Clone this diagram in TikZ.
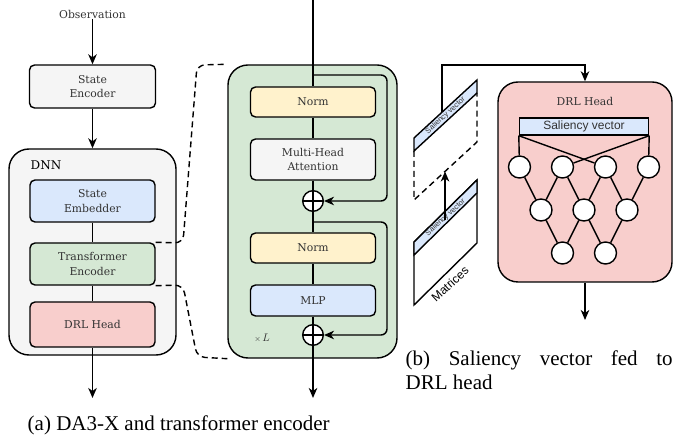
\documentclass[tikz,border=0pt]{standalone}
\usepackage{fontspec}
\setmainfont{DejaVu Serif}
\newfontfamily\capfont{Liberation Serif}
\newfontfamily\sansfnt{Liberation Sans}
\usetikzlibrary{arrows.meta,calc}
\definecolor{grayfill}{HTML}{F5F5F5}
\definecolor{bluefill}{HTML}{DAE8FC}
\definecolor{greenfill}{HTML}{D5E8D4}
\definecolor{redfill}{HTML}{F8CECC}
\definecolor{yellowfill}{HTML}{FFF2CC}
\definecolor{txt}{HTML}{333333}
\begin{document}
\begin{tikzpicture}[x=1pt,y=-1pt,
 line width=1.4pt,
 box/.style={draw, rounded corners=5pt, align=center, text=txt, font=\fontsize{10.8}{14.5}\selectfont, inner sep=0pt},
 bigbox/.style={draw, rounded corners=20pt, inner sep=0pt},
 arr/.style={-{Stealth[length=10pt,width=8.5pt,inset=3pt]}},
 plus/.style={draw, circle, fill=white, minimum size=20.6pt, inner sep=0pt,
   path picture={\draw[line width=1.2pt] (path picture bounding box.north) -- (path picture bounding box.south) (path picture bounding box.west) -- (path picture bounding box.east);}},
 neuron/.style={draw, circle, fill=white, minimum size=22pt, inner sep=0pt},
 lbl/.style={text=txt, font=\fontsize{10.8}{14.5}\selectfont, inner sep=0pt},
 captext/.style={font=\capfont\fontsize{21}{24}\selectfont, inner sep=0pt, anchor=base west},
 dsh/.style={dash pattern=on 6pt off 4pt},
]
\useasboundingbox (0,0) rectangle (675,443);

% ---------- (a) left column ----------
\node[lbl] (obs) at (92.5,14) {Observation};
\node[box, fill=grayfill, minimum width=126pt, minimum height=43pt] (se) at (92.5,86.5) {State\\Encoder};
\node[bigbox, fill=grayfill, minimum width=167pt, minimum height=206pt] (dnn) at (92.5,252) {};
\node[inner sep=0pt, font=\fontsize{12}{14}\selectfont, anchor=west] (dnnl) at (30,165) {DNN};
\node[box, fill=bluefill, minimum width=125pt, minimum height=42pt] (emb) at (92.5,201) {State\\Embedder};
\node[box, fill=greenfill, minimum width=125pt, minimum height=42pt] (te) at (92.5,264) {Transformer\\Encoder};
\node[box, fill=redfill, minimum width=125pt, minimum height=45pt] (drl) at (92.5,324.5) {DRL Head};
\coordinate (outa) at (92.5,398);
\draw[arr] (obs) -- (se);
\draw[arr] (se) -- (dnn.north);
\draw (emb) -- (te);
\draw (te) -- (drl);
\draw[arr] (drl) -- (outa);

% ---------- transformer block ----------
\node[bigbox, fill=greenfill, minimum width=169pt, minimum height=293pt] (tb) at (312.5,211.5) {};
\node[box, fill=yellowfill, minimum width=125pt, minimum height=30pt] (norm1) at (313,102) {Norm};
\node[box, fill=grayfill, minimum width=125pt, minimum height=41pt] (mha) at (313,159.5) {Multi-Head\\Attention};
\node[plus] (p1) at (313,201) {};
\node[box, fill=yellowfill, minimum width=125pt, minimum height=30pt] (norm2) at (313,248) {Norm};
\node[box, fill=bluefill, minimum width=125pt, minimum height=31pt] (mlp) at (313,300.5) {MLP};
\node[plus] (p2) at (313,335) {};
\node[text=txt, inner sep=0pt, font=\fontsize{11}{13}\selectfont] (xl) at (262,338) {$\scriptstyle\times\,\textstyle L$};
\coordinate (ttop) at (313,0);
\coordinate (tbot) at (313,398);
\coordinate (b1) at (313,75);
\coordinate (b2) at (313,222);
\draw (ttop) -- (norm1);
\draw (norm1) -- (mha);
\draw (mha) -- (p1);
\draw (p1) -- (norm2);
\draw (norm2) -- (mlp);
\draw (mlp) -- (p2);
\draw[arr] (p2) -- (tbot);
\draw[arr, rounded corners=6pt] (b1) -- (387,75) -- (387,201) -- (p1);
\draw[arr, rounded corners=6pt] (b2) -- (387,222) -- (387,335) -- (p2);

% dashed bracket
\draw[dsh, rounded corners=8pt] (te.north east) -- (183,243) -- (197,65) -- (tb.north west);
\draw[dsh, rounded corners=8pt] (te.south east) -- (183,285) -- (197,357) -- (tb.south west);

% ---------- (b) DRL head ----------
\node[bigbox, fill=redfill, minimum width=174pt, minimum height=200pt] (drlh) at (585,182) {};
\node[lbl] (drlhl) at (585,101) {DRL Head};
\node[draw, fill=bluefill, minimum width=129pt, minimum height=17pt, inner sep=0pt, text=txt, font=\sansfnt\fontsize{12}{14}\selectfont] (sv) at (584,126.5) {Saliency vector};
\foreach \i/\x in {1/519.5,2/562.5,3/605.5,4/648.5} \node[neuron] (n1\i) at (\x,167) {};
\foreach \i/\x in {1/541,2/584,3/627} \node[neuron] (n2\i) at (\x,210) {};
\foreach \i/\x in {1/562.5,2/605.5} \node[neuron] (n3\i) at (\x,253) {};
\draw (sv.south west) -- (n11);
\draw (sv.south west) -- (n13);
\draw (sv.south east) -- (n12);
\draw (sv.south east) -- (n14);
\draw (n11) -- (n21); \draw (n12) -- (n21); \draw (n12) -- (n22);
\draw (n13) -- (n22); \draw (n13) -- (n23); \draw (n14) -- (n23);
\draw (n21) -- (n31); \draw (n22) -- (n31); \draw (n22) -- (n32); \draw (n23) -- (n32);
\coordinate (outb) at (585,320);
\draw[arr] (drlh) -- (outb);

% parallelograms
\draw[fill=white] (414,242) -- (477,180) -- (477,243) -- (414,305) -- cycle;
\draw[fill=bluefill] (414,242) -- (477,180) -- (477,193) -- (414,255) -- cycle;
\node[rotate=42.6, inner sep=0pt, text=txt, font=\sansfnt\fontsize{7.5}{8}\selectfont] (svl) at (445.5,217.5) {Saliency vector};
\node[rotate=42.6, inner sep=0pt, font=\sansfnt\fontsize{12}{14}\selectfont] (mat) at (450,284) {Matrices};

\draw[fill=bluefill] (414,138) -- (477,80) -- (477,93) -- (414,151) -- cycle;
\draw[dsh] (414,151) -- (414,200) -- (477,142) -- (477,93);
\node[rotate=42.6, inner sep=0pt, text=txt, font=\sansfnt\fontsize{7.5}{8}\selectfont] (svu) at (445.5,115.5) {Saliency vector};

\coordinate (la) at (445,220);
\coordinate (ua) at (445,171.5);
\draw[arr] (la) -- (ua);
\coordinate (us) at (442,112.2);
\draw[arr] (us) -- (442,65) -- (585,65) -- (drlh.north);

% captions
\node[captext] (capa) at (27,431) {(a) DA3-X and transformer encoder};
\node[captext] (capb1) at (405,366) {\makebox[267pt][s]{(b) Saliency vector fed to}};
\node[captext] (capb2) at (405,390) {DRL head};
\end{tikzpicture}
\end{document}
